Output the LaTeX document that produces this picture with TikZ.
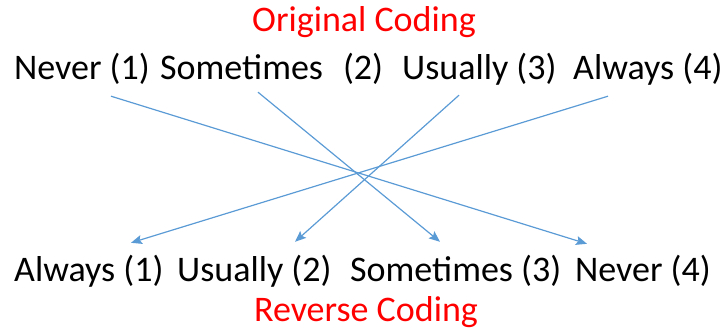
\documentclass[tikz,border=0pt]{standalone}
\usepackage{fontspec}
\setmainfont{Carlito}
\usetikzlibrary{arrows.meta}
\usetikzlibrary{positioning}
\definecolor{linkblue}{RGB}{91,155,213}
\tikzset{
  item/.style={inner sep=0pt, anchor=base west, text height=26pt, text depth=8pt, font=\fontsize{36}{40}\selectfont},
  title/.style={inner sep=0pt, anchor=base, text=red, font=\fontsize{36}{40}\selectfont},
  link/.style={draw=linkblue, line width=1.2pt, -{Stealth[length=11pt,width=9pt,inset=2pt]}}
}

\begin{document}
\begin{tikzpicture}[x=1pt,y=1pt]
        \useasboundingbox (0,0) rectangle (726,332);

        \node at (364,300) [title] (original) {Original Coding};
        \node at (14,252) [item] (neverA) {Never (1)};
        \node at (160,252) [item] (sometimesA) {Sometimes\hspace{20pt}(2)};
        \node at (402,252) [item] (usuallyA) {Usually (3)};
        \node at (573,252) [item] (alwaysA) {Always (4)};

        \node at (14,50) [item] (alwaysB) {Always (1)};
        \node at (177,50) [item] (usuallyB) {Usually (2)};
        \node at (350,50) [item] (sometimesB) {Sometimes (3)};
        \node at (575,50) [item] (neverB) {Never (4)};
        \node at (366,10) [title] (reverse) {Reverse Coding};

        \draw[link] ([shift={(97,-8)}]neverA.south west)     -- ([shift={(12,12)}]neverB.north west);
        \draw[link] ([shift={(98,-4)}]sometimesA.south west) -- ([shift={(90,14)}]sometimesB.north west);
        \draw[link] ([shift={(57,-7)}]usuallyA.south west)   -- ([shift={(118,14)}]usuallyB.north west);
        \draw[link] ([shift={(35,-8)}]alwaysA.south west)    -- ([shift={(117,13)}]alwaysB.north west);
    \end{tikzpicture}
\end{document}
